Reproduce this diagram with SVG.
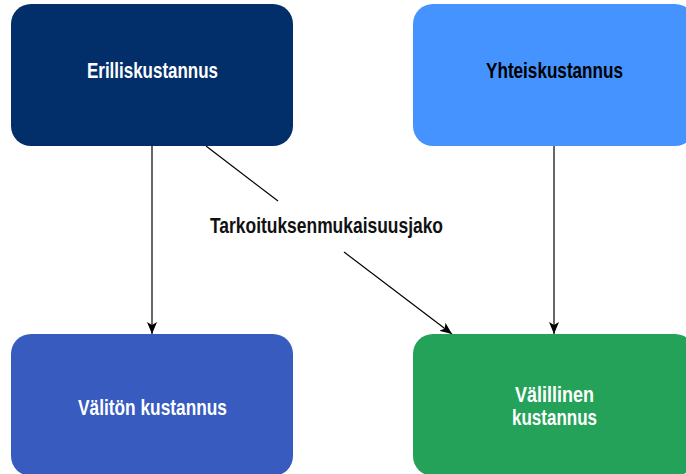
<svg xmlns="http://www.w3.org/2000/svg" width="686" height="474" viewBox="0 0 686 474">
<style>
.lbl{font-family:"Liberation Sans Narrow","Liberation Sans",Arial,sans-serif;font-weight:bold;font-size:22px;text-anchor:middle}
.edge{stroke:#000;stroke-width:1.2;fill:none}
</style>
<defs>
<marker id="arr" viewBox="0 0 12 10" refX="12" refY="5" markerWidth="12" markerHeight="10" markerUnits="userSpaceOnUse" orient="auto">
<path d="M0,0 L12,5 L0,10 L3,5 Z" fill="#000"/>
</marker>
</defs>
<rect width="686" height="474" fill="#fff"/>
<g id="connectors">
<line class="edge" x1="152" y1="146" x2="152" y2="334" marker-end="url(#arr)"/>
<line class="edge" x1="554" y1="146" x2="554" y2="334" marker-end="url(#arr)"/>
<line class="edge" x1="206" y1="146" x2="278" y2="201"/>
<line class="edge" x1="344" y1="252" x2="452" y2="334" marker-end="url(#arr)"/>
<text class="lbl" x="326.5" y="233" fill="#111" textLength="233" lengthAdjust="spacingAndGlyphs">Tarkoituksenmukaisuusjako</text>
</g>
<g id="erilliskustannus">
<rect x="11" y="4" width="282" height="142" rx="20" fill="#022F69"/>
<text class="lbl" x="152.5" y="78" fill="#fff" textLength="131" lengthAdjust="spacingAndGlyphs">Erilliskustannus</text>
</g>
<g id="yhteiskustannus">
<rect x="413" y="4" width="282" height="142" rx="20" fill="#4593FF"/>
<text class="lbl" x="554.5" y="78" fill="#000" textLength="137" lengthAdjust="spacingAndGlyphs">Yhteiskustannus</text>
</g>
<g id="valiton">
<rect x="11" y="334" width="282" height="142" rx="20" fill="#375BBF"/>
<text class="lbl" x="152.5" y="415" fill="#fff" textLength="149" lengthAdjust="spacingAndGlyphs">Välitön kustannus</text>
</g>
<g id="valillinen">
<rect x="413" y="334" width="282" height="142" rx="20" fill="#24A259"/>
<text class="lbl" x="554.5" y="402" fill="#fff" textLength="79" lengthAdjust="spacingAndGlyphs">Välillinen</text>
<text class="lbl" x="554.5" y="425" fill="#fff" textLength="85" lengthAdjust="spacingAndGlyphs">kustannus</text>
</g>
</svg>
